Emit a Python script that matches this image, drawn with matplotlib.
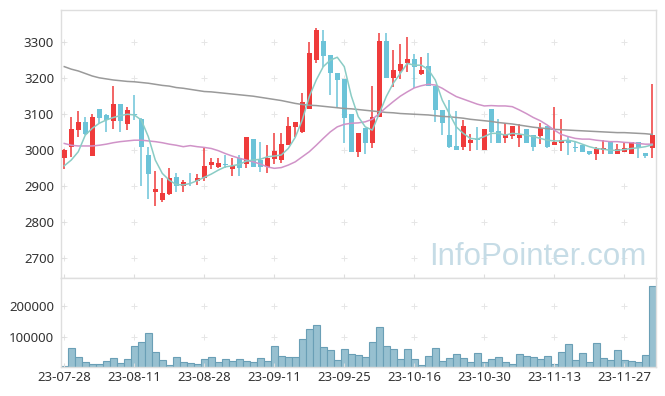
import numpy as np
import pandas as pd
import matplotlib
matplotlib.use('Agg')
import matplotlib.pyplot as plt

# trading days (KRX calendar, holidays removed)
holidays = ['2023-08-15', '2023-09-28', '2023-09-29', '2023-10-02', '2023-10-03', '2023-10-09']
dates = pd.bdate_range('2023-07-28', '2023-12-01')
dates = dates[~dates.isin(pd.to_datetime(holidays))]

opens = [2979, 3009, 3056, 3077, 2984, 3113, 3097, 3081, 3127, 3071,
         3101, 3086, 2986, 2884, 2860, 2879, 2925, 2900, 2915, 2913,
         2921, 2959, 2953, 2960, 2948, 2978, 2960, 3030, 2972, 2953,
         2976, 2971, 3014, 3064, 3050, 3114, 3249, 3302, 3263, 3212,
         3196, 3101, 2995, 3060, 3020, 3090, 3302, 3200, 3219, 3242,
         3252, 3210, 3233, 3177, 3112, 3041, 3011, 3009, 3020, 3030,
         3001, 3113, 3052, 3034, 3039, 3034, 3058, 3041, 3039, 3066,
         3014, 3020, 3027, 3006, 3015, 2997, 2990, 3001, 3023, 2990,
         2995, 2990, 3022, 2992, 3004]
highs = [3002, 3090, 3108, 3090, 3100, 3113, 3101, 3177, 3127, 3118,
         3152, 3088, 3009, 2941, 2921, 2949, 2935, 2916, 2935, 2933,
         3004, 2979, 2977, 2986, 2977, 2986, 3036, 3030, 3021, 3013,
         3046, 3046, 3090, 3077, 3159, 3298, 3337, 3333, 3263, 3212,
         3196, 3101, 3046, 3060, 3177, 3323, 3323, 3277, 3293, 3312,
         3265, 3257, 3268, 3177, 3112, 3138, 3109, 3083, 3044, 3064,
         3058, 3113, 3085, 3075, 3066, 3071, 3058, 3041, 3075, 3066,
         3120, 3085, 3035, 3021, 3015, 2997, 3009, 3027, 3023, 3016,
         3023, 3022, 3022, 2992, 3183]
lows = [2946, 2981, 3035, 3041, 2984, 3074, 3050, 3057, 3050, 3055,
        3083, 2900, 2863, 2844, 2856, 2875, 2884, 2884, 2900, 2904,
        2915, 2947, 2949, 2949, 2928, 2928, 2949, 2953, 2940, 2935,
        2961, 2963, 3014, 3035, 3046, 3114, 3242, 3231, 3152, 3115,
        3020, 2995, 2981, 2990, 3004, 3090, 3200, 3175, 3198, 3217,
        3171, 3207, 3177, 3078, 3041, 3004, 3000, 3000, 2998, 3000,
        3001, 3020, 3020, 3020, 3029, 3009, 3020, 2997, 3016, 3004,
        3014, 2998, 2986, 2995, 2995, 2986, 2972, 2990, 2990, 2990,
        2995, 2990, 2978, 2978, 2978]
closes = [3001, 3058, 3077, 3043, 3090, 3089, 3083, 3127, 3081, 3112,
          3098, 3009, 2933, 2891, 2880, 2922, 2900, 2910, 2913, 2922,
          2955, 2966, 2965, 2957, 2956, 2949, 3036, 2953, 2953, 2978,
          2997, 3016, 3065, 3077, 3133, 3269, 3333, 3260, 3212, 3194,
          3089, 2995, 3046, 3020, 3090, 3302, 3200, 3222, 3238, 3252,
          3231, 3222, 3177, 3112, 3075, 3009, 3001, 3066, 3027, 3028,
          3058, 3051, 3020, 3041, 3066, 3041, 3020, 3009, 3062, 3009,
          3022, 3027, 3020, 3005, 2995, 2990, 3002, 3006, 2990, 3002,
          3006, 3022, 3004, 2984, 3041]
volumes = [3300, 61500, 31900, 15400, 8800, 8800, 18700, 28600, 12100, 25300,
           68100, 81300, 111000, 48400, 22000, 5500, 31900, 15400, 12100, 8800,
           25300, 31900, 15400, 25300, 18700, 25300, 18700, 15400, 28600, 18700,
           68100, 35200, 31900, 31900, 91200, 124200, 137400, 64800, 55000, 22000,
           58200, 41800, 38500, 31900, 81300, 130800, 70300, 58200, 25300, 58200,
           25300, 5500, 35200, 61500, 18700, 28600, 41800, 28600, 15400, 45100,
           15400, 25300, 31900, 15400, 8800, 41800, 35200, 31900, 25300, 35200,
           8800, 48400, 74700, 22000, 45100, 15400, 78000, 28600, 22000, 55000,
           22000, 18700, 15400, 38500, 267000]
ma5 = [2956, 2972, 2995, 3041, 3060, 3074, 3083, 3090, 3095, 3099,
       3097, 3083, 3037, 2972, 2935, 2916, 2904, 2903, 2907, 2915,
       2924, 2933, 2944, 2953, 2956, 2960, 2969, 2972, 2974, 2981,
       2983, 2986, 3004, 3035, 3083, 3148, 3194, 3231, 3249, 3257,
       3231, 3150, 3092, 3064, 3055, 3101, 3148, 3185, 3212, 3240,
       3235, 3235, 3223, 3194, 3138, 3101, 3064, 3046, 3032, 3030,
       3037, 3046, 3046, 3041, 3046, 3044, 3041, 3037, 3032, 3027,
       3025, 3025, 3027, 3023, 3016, 3009, 3004, 3002, 2999, 2999,
       3001, 3004, 3006, 3009, 3014]
ma20 = [3018, 3013, 3011, 3011, 3011, 3013, 3016, 3020, 3023, 3025,
        3027, 3027, 3025, 3023, 3020, 3016, 3013, 3009, 3012, 3009,
        3007, 3004, 2998, 2990, 2983, 2977, 2972, 2967, 2961, 2953,
        2949, 2951, 2958, 2967, 2981, 2995, 3013, 3032, 3050, 3064,
        3071, 3074, 3075, 3078, 3085, 3101, 3118, 3134, 3149, 3161,
        3172, 3178, 3182, 3180, 3171, 3159, 3148, 3141, 3134, 3127,
        3122, 3123, 3122, 3122, 3120, 3111, 3101, 3090, 3081, 3069,
        3055, 3043, 3037, 3032, 3030, 3030, 3027, 3025, 3023, 3023,
        3021, 3020, 3018, 3016, 3016]
ma_long = [3231, 3224, 3219, 3212, 3205, 3200, 3197, 3194, 3192, 3190,
           3189, 3187, 3185, 3182, 3179, 3177, 3173, 3171, 3168, 3165,
           3162, 3161, 3159, 3157, 3155, 3153, 3151, 3149, 3146, 3143,
           3140, 3137, 3133, 3129, 3126, 3124, 3123, 3121, 3119, 3117,
           3115, 3114, 3112, 3110, 3108, 3106, 3104, 3103, 3101, 3100,
           3099, 3098, 3097, 3095, 3093, 3092, 3090, 3088, 3085, 3083,
           3081, 3079, 3076, 3074, 3072, 3069, 3066, 3063, 3061, 3059,
           3057, 3056, 3055, 3054, 3053, 3052, 3051, 3050, 3049, 3048,
           3048, 3047, 3046, 3045, 3043]

up_color = '#ef3b3b'
down_color = '#6cc3d8'
frame_color = '#dedede'
label_color = '#333333'

x = np.arange(len(dates))
o = np.array(opens)
c = np.array(closes)
up = c >= o
colors = np.where(up, up_color, down_color)

fig = plt.figure(figsize=(6.65, 3.96), dpi=100)
ax = fig.add_axes([0.0917, 0.2972, 0.8943, 0.6775])
axv = fig.add_axes([0.0917, 0.0732, 0.8943, 0.2240], sharex=ax)

# candles
ax.vlines(x, lows, highs, colors=colors, linewidth=1.1, zorder=2)
body = np.maximum(np.abs(c - o), 2)
ax.bar(x, body, bottom=np.minimum(o, c), width=0.76, color=colors, zorder=3)

# moving averages
ax.plot(x, ma_long, color='#9a9a9a', lw=1.1, zorder=4)
ax.plot(x, ma20, color='#d093c8', lw=1.1, zorder=4)
ax.plot(x, ma5, color='#8accc5', lw=1.1, zorder=4)

ax.set_ylim(2644, 3388)
ax.set_yticks([2700, 2800, 2900, 3000, 3100, 3200, 3300])
ax.set_xlim(-0.47, 84.49)

ax.text(0.985, 0.05, 'InfoPointer.com', transform=ax.transAxes, ha='right', va='baseline',
        fontsize=22.5, family='Liberation Sans', color='#c6dce6', zorder=1)

# volume
axv.bar(x, volumes, width=1.0, color='#97c0d0', edgecolor='#6a9fb6', linewidth=0.8)
axv.set_ylim(0, 292000)
axv.set_yticks([100000, 200000])

xt = list(range(0, len(dates), 10))
axv.set_xticks(xt)
axv.set_xticklabels([dates[i].strftime('%y-%m-%d') for i in xt])

for a in (ax, axv):
    for s in a.spines.values():
        s.set_color(frame_color)
        s.set_linewidth(1.0)
    a.tick_params(direction='in', length=3, color=frame_color, labelcolor=label_color,
                  labelsize=9.5, pad=5)
    a.set_facecolor('white')
    for lab in a.get_xticklabels() + a.get_yticklabels():
        lab.set_family('Noto Sans')
    # small "+" marks at grid crossings
    gx, gy = np.meshgrid(xt, a.get_yticks())
    a.plot(gx.ravel(), gy.ravel(), ls='none', marker='+', ms=4.5, mew=0.7,
           color='#e6e6e6', zorder=0)

ax.tick_params(labelbottom=False)
axv.tick_params(axis='x', pad=3)

plt.savefig('out.png', dpi=100)
